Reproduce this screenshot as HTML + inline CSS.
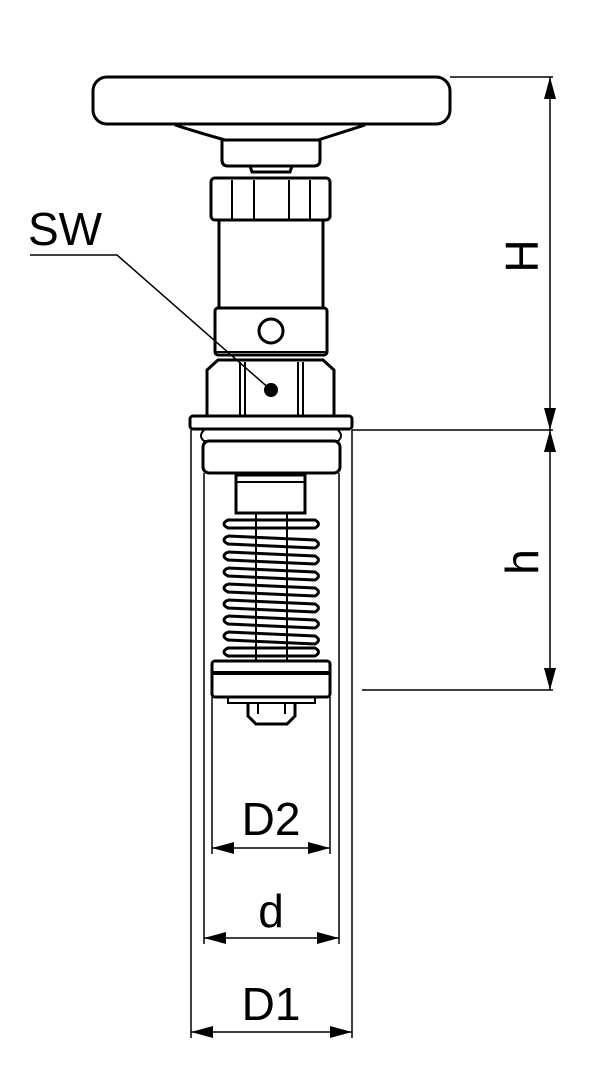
<!DOCTYPE html>
<html><head><meta charset="utf-8"><style>
html,body{margin:0;padding:0;background:#fff;}
svg{display:block;}
text{font-family:"Liberation Sans",sans-serif;fill:#000;}
</style></head><body>
<svg width="605" height="1080" viewBox="0 0 605 1080" xmlns="http://www.w3.org/2000/svg">
<defs>
<marker id="a" viewBox="0 0 22 12" refX="22" refY="6" markerWidth="22" markerHeight="12" markerUnits="userSpaceOnUse" orient="auto-start-reverse"><path d="M0,0 L22,6 L0,12 z" fill="#000"/></marker>
</defs>
<g fill="none" stroke="#000" stroke-width="3">
<!-- handwheel -->
<rect x="93" y="77" width="357" height="47" rx="14"/>
<path d="M175,125 Q200,133 225,140 L318,140 Q340,133 365,125"/>
<path d="M222,140 L222,160 Q222,166 228,166 L314,166 Q320,166 320,160 L320,140"/>
<path d="M250,166 L252,172 L290,172 L292,166"/>
<!-- upper nut -->
<rect x="211" y="178" width="119" height="42" rx="4"/>
<path d="M232,180 V219 M254,180 V219 M289,180 V219 M310,180 V219" stroke-width="2"/>
<!-- tube -->
<path d="M219,220 V308 M323,220 V308"/>
<!-- collar -->
<rect x="215" y="308" width="112" height="47" rx="3"/>
<path d="M216,352 H326" stroke-width="2"/>
<circle cx="271" cy="331" r="12"/>
<!-- hex -->
<path d="M207,415 V370 L218,360 L323,360 L334,370 V415"/>
<path d="M240,362 V415 M245,362 V415 M298,362 V415 M303,362 V415" stroke-width="2"/>
<!-- flange -->
<rect x="190" y="416" width="162" height="13" rx="3"/>
<path d="M204,430 Q198,436 204,441 H338 Q344,436 338,430" stroke-width="2"/>
<rect x="203" y="441" width="137" height="32" rx="6"/>
<!-- stem -->
<rect x="236" y="475" width="69" height="38"/>
<path d="M236,482 H305" stroke-width="2"/>
<path d="M256,513 V660 M287,513 V660" stroke-width="2"/>
<!-- spring -->
<g stroke-width="3">
<path d="M228,520 H315 Q322,524 315,528 H228 Q220,524 228,520 Z"/>
<path d="M228,536 Q220,540 228,544 L315,548 Q322,544 315,540 L228,536"/>
<path d="M228,552 Q220,556 228,560 L315,564 Q322,560 315,556 L228,552"/>
<path d="M228,568 Q220,572 228,576 L315,580 Q322,576 315,572 L228,568"/>
<path d="M228,584 Q220,588 228,592 L315,596 Q322,592 315,588 L228,584"/>
<path d="M228,600 Q220,604 228,608 L315,612 Q322,608 315,604 L228,600"/>
<path d="M228,616 Q220,620 228,624 L315,628 Q322,624 315,620 L228,616"/>
<path d="M228,632 Q220,636 228,640 L315,644 Q322,640 315,636 L228,632"/>
<path d="M228,648 Q220,652 228,656 H315 Q322,652 315,648 Z"/>
</g>
<!-- bottom disc -->
<rect x="212" y="661" width="118" height="36" rx="3"/>
<path d="M213,673 H329" stroke-width="4"/>
<path d="M228,697 V703 H315 V697" stroke-width="2"/>
<path d="M248,703 V716 L256,724 H287 L295,716 V703"/>
<path d="M258,703 V714 M285,703 V714" stroke-width="2"/>
</g>
<g stroke="#000" stroke-width="1.5" fill="none">
<line x1="191" y1="430" x2="191" y2="1038"/>
<line x1="352" y1="430" x2="352" y2="1038"/>
<line x1="204" y1="473" x2="204" y2="944"/>
<line x1="339" y1="473" x2="339" y2="944"/>
<line x1="212" y1="697" x2="212" y2="854"/>
<line x1="330" y1="697" x2="330" y2="854"/>
<line x1="450" y1="77" x2="553" y2="77"/>
<line x1="352" y1="430" x2="553" y2="430"/>
<line x1="362" y1="690" x2="553" y2="690"/>
<line x1="550" y1="77" x2="550" y2="430" marker-start="url(#a)" marker-end="url(#a)"/>
<line x1="550" y1="430" x2="550" y2="690" marker-start="url(#a)" marker-end="url(#a)"/>
<line x1="212" y1="848" x2="330" y2="848" marker-start="url(#a)" marker-end="url(#a)"/>
<line x1="204" y1="938" x2="339" y2="938" marker-start="url(#a)" marker-end="url(#a)"/>
<line x1="191" y1="1032" x2="352" y2="1032" marker-start="url(#a)" marker-end="url(#a)"/>
<polyline points="30,255 117,255 271,390"/>
</g>
<circle cx="271" cy="390" r="7" fill="#000"/>
<text x="28" y="245" font-size="46">SW</text>
<text x="271" y="835" font-size="46" text-anchor="middle">D2</text>
<text x="271" y="927" font-size="46" text-anchor="middle">d</text>
<text x="271" y="1020" font-size="46" text-anchor="middle">D1</text>
<text transform="translate(538,256) rotate(-90)" font-size="46" text-anchor="middle">H</text>
<text transform="translate(538,562) rotate(-90)" font-size="46" text-anchor="middle">h</text>
</svg>
</body></html>
